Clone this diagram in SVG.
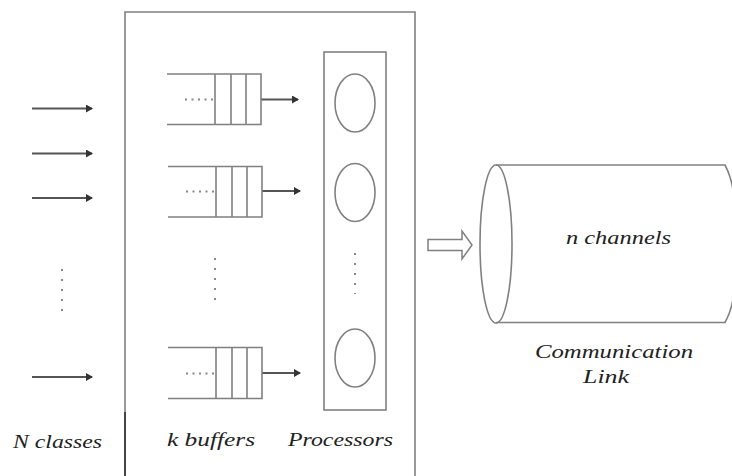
<svg xmlns="http://www.w3.org/2000/svg" width="732" height="476" viewBox="0 0 732 476">
<style>
.ln{stroke:#808080;stroke-width:1.6;fill:none}
.ar{stroke:#555;stroke-width:2;fill:none}
.dot{stroke:#888;stroke-width:2;stroke-dasharray:2 8;fill:none}
.hdot{stroke:#888;stroke-width:2;stroke-dasharray:2 4.5;fill:none}
.lbl{font-family:"Liberation Serif",serif;font-style:italic;font-size:19px;fill:#222}
</style>
<defs>
<marker id="ah" markerWidth="8" markerHeight="8" refX="6" refY="4" orient="auto" markerUnits="userSpaceOnUse">
<path d="M0,0 L7,4 L0,8 Z" fill="#333"/>
</marker>
</defs>
<rect width="732" height="476" fill="#fff"/>

<g id="system-box">
<path d="M125,476 V12 H415 V476" class="ln" stroke="#a0a0a0"/>
<line x1="125" y1="412" x2="125" y2="476" stroke="#444" stroke-width="2"/>
</g>

<g id="connectors">
<line x1="32" y1="108.5" x2="92" y2="108.5" class="ar" marker-end="url(#ah)"/>
<line x1="32" y1="153.5" x2="92" y2="153.5" class="ar" marker-end="url(#ah)"/>
<line x1="32" y1="198" x2="92" y2="198" class="ar" marker-end="url(#ah)"/>
<line x1="32" y1="377" x2="92" y2="377" class="ar" marker-end="url(#ah)"/>
<line x1="261" y1="99.5" x2="298" y2="99.5" class="ar" marker-end="url(#ah)"/>
<line x1="262" y1="191" x2="300" y2="191" class="ar" marker-end="url(#ah)"/>
<line x1="262" y1="373" x2="300" y2="373" class="ar" marker-end="url(#ah)"/>
<path id="hollow-arrow" d="M428,239.5 H462 V231 L472,245 L462,259 V250.5 H428 Z" fill="#fff" stroke="#808080" stroke-width="1.5"/>
</g>

<g id="classes">
<line x1="62" y1="269" x2="62" y2="311" class="dot"/>
<text class="lbl" x="13" y="448" textLength="89" lengthAdjust="spacingAndGlyphs">N classes</text>
</g>

<g id="buffer1">
<path d="M167,74 H261 V124.5 H167 M215,74 V124.5 M231,74 V124.5 M246,74 V124.5" class="ln" stroke="#777"/>
<line x1="185" y1="99.5" x2="214" y2="99.5" class="hdot"/>
</g>
<g id="buffer2">
<path d="M168,166.5 H262 V217 H168 M216,166.5 V217 M232,166.5 V217 M247,166.5 V217" class="ln" stroke="#777"/>
<line x1="186" y1="191.5" x2="215" y2="191.5" class="hdot"/>
</g>
<g id="buffer-dots">
<line x1="215" y1="258" x2="215" y2="300" class="dot"/>
</g>
<g id="buffer3">
<path d="M168,347.5 H262 V398.5 H168 M216,347.5 V398.5 M232,347.5 V398.5 M247,347.5 V398.5" class="ln" stroke="#777"/>
<line x1="186" y1="373.5" x2="215" y2="373.5" class="hdot"/>
</g>
<text class="lbl" x="167" y="446" textLength="88" lengthAdjust="spacingAndGlyphs">k buffers</text>

<g id="processors">
<rect x="324" y="52" width="62" height="358" class="ln"/>
<ellipse cx="355" cy="103" rx="20" ry="29" class="ln"/>
<ellipse cx="355" cy="192.5" rx="20" ry="29" class="ln"/>
<line x1="355" y1="253" x2="355" y2="294" class="dot"/>
<ellipse cx="355" cy="358" rx="20" ry="29" class="ln"/>
<text class="lbl" x="288" y="446" textLength="105" lengthAdjust="spacingAndGlyphs">Processors</text>
</g>

<g id="link">
<path d="M496,165 H725 Q733,180 734,200 M496,322.5 H725 Q733,308 734,290" class="ln"/>
<ellipse cx="496" cy="244" rx="16" ry="79" class="ln"/>
<text class="lbl" x="566" y="244" textLength="105" lengthAdjust="spacingAndGlyphs">n channels</text>
<text class="lbl" x="535" y="358" textLength="158" lengthAdjust="spacingAndGlyphs">Communication</text>
<text class="lbl" x="583" y="383" textLength="46" lengthAdjust="spacingAndGlyphs">Link</text>
</g>
</svg>
